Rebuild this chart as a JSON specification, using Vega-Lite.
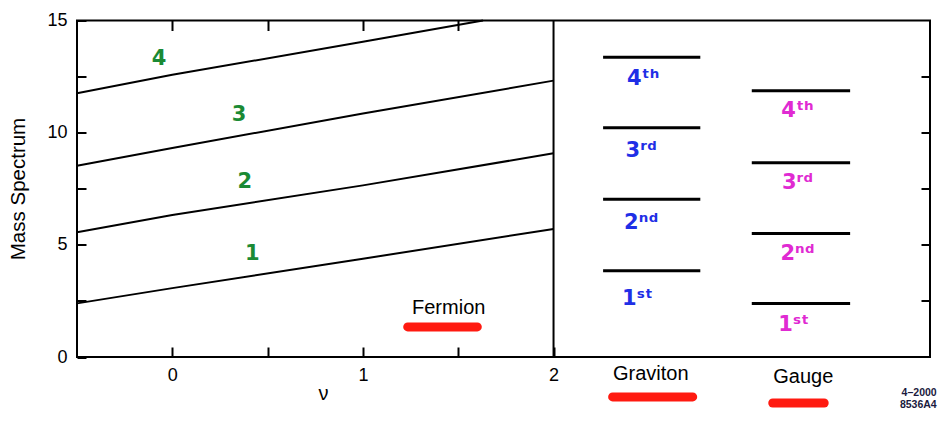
{
  "$schema": "https://vega.github.io/schema/vega-lite/v6.json",
  "width": 853,
  "height": 336.5,
  "autosize": {"type": "none"},
  "padding": {"left": 77, "top": 20.5, "right": 8, "bottom": 67},
  "background": "white",
  "config": {
    "view": {"stroke": "black", "strokeWidth": 2},
    "axis": {
      "domain": false, "grid": false,
      "labelFont": "Liberation Sans", "labelColor": "black", "labelFontSize": 18,
      "labelFlush": false, "labelOverlap": false, "labelBound": false,
      "titleFont": "Liberation Sans", "titleColor": "black", "titleFontWeight": "normal"
    },
    "text": {"font": "Liberation Sans"}
  },
  "resolve": {"axis": {"x": "independent", "y": "independent"}},
  "datasets": {
    "fermion": [
      {"series": "1", "nu": -0.5, "m": 2.39}, {"series": "1", "nu": 0, "m": 3.07}, {"series": "1", "nu": 1, "m": 4.38}, {"series": "1", "nu": 2, "m": 5.71},
      {"series": "2", "nu": -0.5, "m": 5.56}, {"series": "2", "nu": 0, "m": 6.33}, {"series": "2", "nu": 1, "m": 7.65}, {"series": "2", "nu": 2, "m": 9.08},
      {"series": "3", "nu": -0.5, "m": 8.53}, {"series": "3", "nu": 0, "m": 9.32}, {"series": "3", "nu": 1, "m": 10.85}, {"series": "3", "nu": 2, "m": 12.32},
      {"series": "4", "nu": -0.5, "m": 11.76}, {"series": "4", "nu": 0, "m": 12.58}, {"series": "4", "nu": 1, "m": 14.05}, {"series": "4", "nu": 1.63, "m": 15}
    ],
    "levels": [
      {"sector": "Graviton", "level": "4th", "x0": 2.26, "x1": 2.77, "m": 13.36},
      {"sector": "Graviton", "level": "3rd", "x0": 2.26, "x1": 2.77, "m": 10.22},
      {"sector": "Graviton", "level": "2nd", "x0": 2.26, "x1": 2.77, "m": 7.03},
      {"sector": "Graviton", "level": "1st", "x0": 2.26, "x1": 2.77, "m": 3.85},
      {"sector": "Gauge", "level": "4th", "x0": 3.04, "x1": 3.556, "m": 11.87},
      {"sector": "Gauge", "level": "3rd", "x0": 3.04, "x1": 3.556, "m": 8.66},
      {"sector": "Gauge", "level": "2nd", "x0": 3.04, "x1": 3.556, "m": 5.51},
      {"sector": "Gauge", "level": "1st", "x0": 3.04, "x1": 3.556, "m": 2.39}
    ],
    "levelLabels": [
      {"sector": "Graviton", "label": "4ᵗʰ", "x": 2.47, "y": 12.4},
      {"sector": "Graviton", "label": "3ʳᵈ", "x": 2.46, "y": 9.2},
      {"sector": "Graviton", "label": "2ⁿᵈ", "x": 2.46, "y": 5.97},
      {"sector": "Graviton", "label": "1ˢᵗ", "x": 2.44, "y": 2.59},
      {"sector": "Gauge", "label": "4ᵗʰ", "x": 3.28, "y": 10.97},
      {"sector": "Gauge", "label": "3ʳᵈ", "x": 3.28, "y": 7.76},
      {"sector": "Gauge", "label": "2ⁿᵈ", "x": 3.28, "y": 4.59},
      {"sector": "Gauge", "label": "1ˢᵗ", "x": 3.26, "y": 1.43}
    ],
    "seriesLabels": [
      {"label": "4", "x": -0.07, "y": 13.3},
      {"label": "3", "x": 0.35, "y": 10.8},
      {"label": "2", "x": 0.38, "y": 7.8},
      {"label": "1", "x": 0.42, "y": 4.6}
    ],
    "names": [
      {"label": "Fermion", "x": 1.45, "y": 2.18},
      {"label": "Graviton", "x": 2.51, "y": -0.76},
      {"label": "Gauge", "x": 3.31, "y": -0.89}
    ],
    "underlines": [
      {"label": "Fermion", "x0": 1.235, "x1": 1.6, "y": 1.34},
      {"label": "Graviton", "x0": 2.31, "x1": 2.73, "y": -1.78},
      {"label": "Gauge", "x0": 3.15, "x1": 3.42, "y": -2.05}
    ],
    "stamp": [
      {"label": "4–2000", "x": 4.01, "y": -1.6},
      {"label": "8536A4", "x": 4.01, "y": -2.15}
    ],
    "divider": [{"nu": 2}]
  },
  "layer": [
    {
      "data": {"name": "fermion"},
      "mark": {"type": "line", "color": "black", "strokeWidth": 2},
      "encoding": {
        "x": {
          "field": "nu", "type": "quantitative",
          "scale": {"domain": [-0.5, 3.975], "zero": false, "nice": false},
          "axis": {
            "orient": "bottom", "values": [0, 0.5, 1, 1.5, 2], "offset": -10, "tickSize": 10, "labelPadding": 9,
            "tickColor": "black", "tickWidth": 2,
            "labelExpr": "datum.value % 1 == 0 ? format(datum.value, 'd') : ''",
            "title": "ν", "titleFontSize": 20, "titleX": 246, "titleY": 52,
            "titleAlign": "center", "titleBaseline": "alphabetic"
          }
        },
        "y": {
          "field": "m", "type": "quantitative",
          "scale": {"domain": [0, 15], "nice": false, "zero": true},
          "axis": {
            "orient": "left", "values": [0, 2.5, 5, 7.5, 10, 12.5, 15], "offset": -9, "tickSize": 9, "labelPadding": 10,
            "tickColor": "black", "tickWidth": 2,
            "labelExpr": "datum.value % 5 == 0 ? format(datum.value, 'd') : ''",
            "title": "Mass Spectrum", "titleFontSize": 20.5, "titleAngle": -90,
            "titleX": -62, "titleY": 168, "titleAlign": "center", "titleBaseline": "alphabetic"
          }
        },
        "detail": {"field": "series"}
      }
    },
    {
      "data": {"name": "divider"},
      "mark": {"type": "rule", "color": "black", "strokeWidth": 2},
      "encoding": {
        "x": {
          "field": "nu", "type": "quantitative",
          "axis": {"orient": "top", "values": [0, 0.5, 1, 1.5], "offset": -10, "tickSize": 10, "tickColor": "black", "tickWidth": 2, "labels": false, "title": null}
        }
      }
    },
    {
      "data": {"name": "levels"},
      "mark": {"type": "rule", "color": "black", "strokeWidth": 3},
      "encoding": {
        "x": {"field": "x0", "type": "quantitative", "axis": null},
        "x2": {"field": "x1"},
        "y": {
          "field": "m", "type": "quantitative",
          "axis": {"orient": "right", "values": [2.5, 5, 7.5, 10, 12.5], "offset": -9, "tickSize": 9, "tickColor": "black", "tickWidth": 2, "labels": false, "title": null}
        }
      }
    },
    {
      "data": {"name": "levelLabels"},
      "mark": {"type": "text", "font": "DejaVu Sans", "fontWeight": "bold", "fontSize": 21, "baseline": "middle", "align": "center"},
      "encoding": {
        "x": {"field": "x", "type": "quantitative", "axis": null},
        "y": {"field": "y", "type": "quantitative", "axis": null},
        "text": {"field": "label"},
        "color": {"field": "sector", "type": "nominal", "scale": {"domain": ["Graviton", "Gauge"], "range": ["#1f2fe6", "#e02ad2"]}, "legend": null}
      }
    },
    {
      "data": {"name": "seriesLabels"},
      "mark": {"type": "text", "font": "DejaVu Sans", "fontWeight": "bold", "fontSize": 21, "color": "#1a8a34", "baseline": "middle", "align": "center"},
      "encoding": {
        "x": {"field": "x", "type": "quantitative", "axis": null},
        "y": {"field": "y", "type": "quantitative", "axis": null},
        "text": {"field": "label"}
      }
    },
    {
      "data": {"name": "underlines"},
      "mark": {"type": "rule", "color": "#ff1a10", "strokeWidth": 9, "strokeCap": "round"},
      "encoding": {
        "x": {"field": "x0", "type": "quantitative", "axis": null},
        "x2": {"field": "x1"},
        "y": {"field": "y", "type": "quantitative", "axis": null}
      }
    },
    {
      "data": {"name": "names"},
      "mark": {"type": "text", "fontSize": 20, "color": "black", "baseline": "middle", "align": "center"},
      "encoding": {
        "x": {"field": "x", "type": "quantitative", "axis": null},
        "y": {"field": "y", "type": "quantitative", "axis": null},
        "text": {"field": "label"}
      }
    },
    {
      "data": {"name": "stamp"},
      "mark": {"type": "text", "fontSize": 10.5, "fontWeight": "bold", "color": "#1a1a40", "baseline": "middle", "align": "right"},
      "encoding": {
        "x": {"field": "x", "type": "quantitative", "axis": null},
        "y": {"field": "y", "type": "quantitative", "axis": null},
        "text": {"field": "label"}
      }
    }
  ]
}
